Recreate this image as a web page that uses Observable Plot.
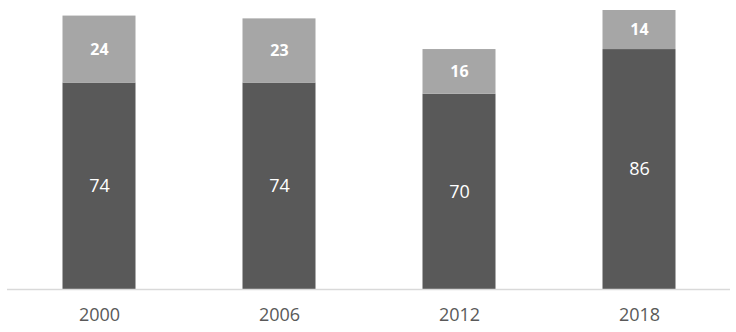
<!DOCTYPE html>
<html>
<head>
<meta charset="utf-8">
<script src="https://cdn.jsdelivr.net/npm/d3@7"></script>
<script src="https://cdn.jsdelivr.net/npm/@observablehq/plot@0.6"></script>
<style>
  html, body { margin: 0; padding: 0; background: #fff; }
  #chart svg { display: block; }
</style>
</head>
<body>
<div id="chart"></div>
<script>
const years = ["2000", "2006", "2012", "2018"];
const bottomValues = [74, 74, 70, 86];
const topValues = [24, 23, 16, 14];
const seriesNames = ["bottom", "top"];
const seriesColors = ["#595959", "#a6a6a6"];

const data = [];
years.forEach((y, i) => {
  data.push({year: y, series: "bottom", value: bottomValues[i]});
  data.push({year: y, series: "top", value: topValues[i]});
});
const bottomLabels = years.map((y, i) => ({year: y, value: bottomValues[i], mid: bottomValues[i] / 2}));
const topLabels = years.map((y, i) => ({year: y, value: topValues[i], mid: bottomValues[i] + topValues[i] / 2}));

const chart = Plot.plot({
  width: 736,
  height: 332,
  marginLeft: 7,
  marginRight: 6,
  marginTop: 10,
  marginBottom: 43,
  style: {fontFamily: "'Open Sans', 'Noto Sans', sans-serif", background: "#fff"},
  x: {domain: years, padding: 0, label: null},
  y: {domain: [0, 100], axis: null},
  color: {domain: seriesNames, range: seriesColors},
  marks: [
    Plot.barY(data, Plot.stackY({
      x: "year", y: "value", fill: "series", z: "series", order: seriesNames,
      insetLeft: 53.5, insetRight: 53.5
    })),
    Plot.text(bottomLabels, {x: "year", y: "mid", text: d => String(d.value), fill: "white", fontSize: 18}),
    Plot.text(topLabels, {x: "year", y: "mid", text: d => String(d.value), fill: "white", fontSize: 16, fontWeight: "bold"}),
    Plot.ruleY([0], {stroke: "#d9d9d9", strokeWidth: 1.5}),
    Plot.axisX({tickSize: 0, tickPadding: 19, fontSize: 18, fill: "#595959", label: null})
  ]
});
document.getElementById("chart").appendChild(chart);
</script>
</body>
</html>
